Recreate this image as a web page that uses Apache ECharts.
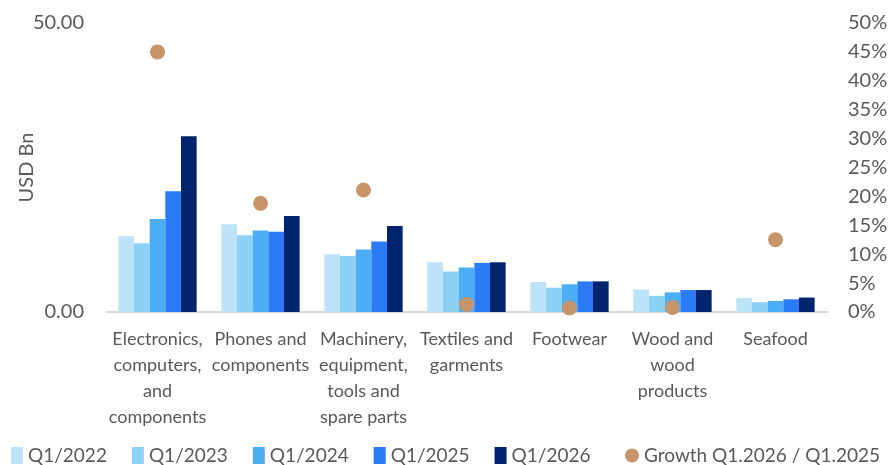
<!DOCTYPE html>
<html>
<head>
<meta charset="utf-8">
<script src="https://cdn.jsdelivr.net/npm/echarts@6/dist/echarts.min.js"></script>
<style>
html,body{margin:0;padding:0;background:#fff;}
#chart{width:893px;height:465px;}
</style>
</head>
<body>
<div id="chart"></div>
<script>
const categories = [
  "Electronics,\ncomputers,\nand\ncomponents",
  "Phones and\ncomponents",
  "Machinery,\nequipment,\ntools and\nspare parts",
  "Textiles and\ngarments",
  "Footwear",
  "Wood and\nwood\nproducts",
  "Seafood"
];
const q2022 = [13.1, 15.2, 10.0, 8.6, 5.2, 3.9, 2.4];
const q2023 = [11.9, 13.3, 9.7, 7.0, 4.2, 2.8, 1.7];
const q2024 = [16.1, 14.1, 10.8, 7.7, 4.8, 3.4, 1.9];
const q2025 = [20.9, 13.9, 12.2, 8.5, 5.3, 3.8, 2.2];
const q2026 = [30.4, 16.6, 14.9, 8.6, 5.3, 3.8, 2.5];
const growth = [45.0, 18.8, 21.1, 1.3, 0.7, 0.8, 12.5];
const seriesNames = ["Q1/2022", "Q1/2023", "Q1/2024", "Q1/2025", "Q1/2026"];
const growthName = "Growth Q1.2026 / Q1.2025";
const leftTicks = [0, 50];
const rightTicks = [0, 5, 10, 15, 20, 25, 30, 35, 40, 45, 50];

const colors = ["#BDE3F8", "#8DD1F5", "#4BAEF5", "#2A7BF5", "#00246E"];
const barData = [q2022, q2023, q2024, q2025, q2026];
const FONT = "Lato";
const TXT = "#595959";

const chart = echarts.init(document.getElementById('chart'), null, {renderer: 'canvas'});
const series = seriesNames.map((n, i) => ({
  name: n,
  type: 'bar',
  data: barData[i],
  barGap: '0%',
  barCategoryGap: '24%',
  itemStyle: {color: colors[i]},
  yAxisIndex: 0
}));
series.push({
  name: growthName,
  type: 'scatter',
  yAxisIndex: 1,
  data: growth,
  symbol: 'circle',
  symbolSize: 15,
  itemStyle: {color: '#C8956A', opacity: 1}
});

chart.setOption({
  animation: false,
  textStyle: {fontFamily: FONT},
  grid: {left: 106, right: 66, top: 23, bottom: 153, containLabel: false, outerBoundsMode: 'none'},
  legend: [
    {
      left: 11,
      top: 446,
      padding: 0,
      itemWidth: 12,
      itemHeight: 17,
      itemGap: 25,
      textStyle: {fontFamily: FONT, fontSize: 19, color: TXT},
      data: seriesNames.map(n => ({name: n, icon: 'rect'}))
    },
    {
      left: 625,
      top: 446,
      padding: 0,
      itemWidth: 14,
      itemHeight: 17,
      textStyle: {fontFamily: FONT, fontSize: 19, color: TXT},
      data: [{name: growthName, icon: 'circle'}]
    }
  ],
  xAxis: {
    type: 'category',
    data: categories,
    axisLine: {show: true, lineStyle: {color: '#D9D9D9', width: 2}},
    axisTick: {show: false},
    axisLabel: {
      interval: 0,
      margin: 14,
      fontFamily: FONT,
      fontSize: 18,
      lineHeight: 26,
      color: TXT,
      align: 'center'
    }
  },
  yAxis: [
    {
      type: 'value',
      min: leftTicks[0],
      max: leftTicks[leftTicks.length - 1],
      interval: 50,
      name: 'USD Bn',
      nameLocation: 'middle',
      nameGap: 69,
      nameRotate: 90,
      nameMoveOverlap: false,
      nameTextStyle: {fontFamily: FONT, fontSize: 20, color: TXT},
      axisLine: {show: false},
      axisTick: {show: false},
      splitLine: {show: false},
      axisLabel: {
        margin: 22,
        fontFamily: FONT,
        fontSize: 20,
        color: TXT,
        formatter: v => v.toFixed(2)
      }
    },
    {
      type: 'value',
      min: rightTicks[0],
      max: rightTicks[rightTicks.length - 1],
      interval: 5,
      position: 'right',
      axisLine: {show: false},
      axisTick: {show: false},
      splitLine: {show: false},
      axisLabel: {
        margin: 21,
        fontFamily: FONT,
        fontSize: 20,
        color: TXT,
        formatter: v => v + '%'
      }
    }
  ],
  series: series
});
</script>
</body>
</html>
